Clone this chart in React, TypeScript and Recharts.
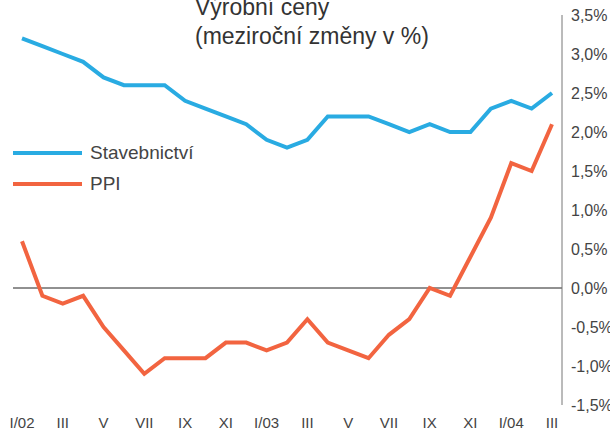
import { LineChart, Line, XAxis, YAxis, ReferenceLine } from 'recharts';

const months = [
  'I/02', 'II', 'III', 'IV', 'V', 'VI', 'VII', 'VIII', 'IX', 'X', 'XI', 'XII',
  'I/03', 'II', 'III', 'IV', 'V', 'VI', 'VII', 'VIII', 'IX', 'X', 'XI', 'XII',
  'I/04', 'II', 'III',
];

const stavebnictvi = [
  3.2, 3.1, 3.0, 2.9, 2.7, 2.6, 2.6, 2.6, 2.4, 2.3, 2.2, 2.1,
  1.9, 1.8, 1.9, 2.2, 2.2, 2.2, 2.1, 2.0, 2.1, 2.0, 2.0, 2.3,
  2.4, 2.3, 2.5,
];

const ppi = [
  0.6, -0.1, -0.2, -0.1, -0.5, -0.8, -1.1, -0.9, -0.9, -0.9, -0.7, -0.7,
  -0.8, -0.7, -0.4, -0.7, -0.8, -0.9, -0.6, -0.4, 0.0, -0.1, 0.4, 0.9,
  1.6, 1.5, 2.1,
];

const yTicks = [-1.5, -1, -0.5, 0, 0.5, 1, 1.5, 2, 2.5, 3, 3.5];

const BLUE = '#29abe2';
const RED = '#f26440';
const FONT = '"Liberation Sans", Arial, sans-serif';

const data = months.map((month, i) => ({
  month,
  stavebnictvi: stavebnictvi[i],
  ppi: ppi[i],
}));

const fmt = (v: number) => v.toFixed(1).replace('.', ',') + '%';

const YTick = ({ x, y, payload }: any) => (
  <text x={x} y={y + 6} fill="#444" fontSize={16} fontFamily={FONT} textAnchor="start">
    {fmt(payload.value)}
  </text>
);

const legendItems = [
  { name: 'Stavebnictví', color: BLUE },
  { name: 'PPI', color: RED },
];

export default function App() {
  return (
    <div style={{ position: 'absolute', left: 0, top: 0, width: 610, height: 432, background: '#fff' }}>
      <LineChart width={610} height={432} data={data} margin={{ top: 15, right: 0, bottom: 0, left: 13 }}>
        <XAxis
          dataKey="month"
          interval={1}
          axisLine={false}
          tickLine={false}
          tickSize={0}
          tickMargin={12}
          height={27}
          padding={{ left: 9, right: 10 }}
          tick={{ fontSize: 15, fill: '#444', fontFamily: FONT }}
        />
        <YAxis
          orientation="right"
          width={48}
          domain={[-1.5, 3.5]}
          ticks={yTicks}
          tickLine={false}
          tickSize={0}
          tickMargin={9}
          axisLine={{ stroke: '#777', strokeWidth: 1 }}
          tick={<YTick />}
        />
        <ReferenceLine y={0} stroke="#222" strokeWidth={1} />
        <Line
          type="linear"
          dataKey="stavebnictvi"
          name="Stavebnictví"
          stroke={BLUE}
          strokeWidth={4}
          dot={false}
          isAnimationActive={false}
        />
        <Line
          type="linear"
          dataKey="ppi"
          name="PPI"
          stroke={RED}
          strokeWidth={4}
          dot={false}
          isAnimationActive={false}
        />
      </LineChart>
      <div style={{ position: 'absolute', left: 13, top: 137, fontFamily: FONT }}>
        {legendItems.map((item) => (
          <div key={item.name} style={{ display: 'flex', alignItems: 'center', height: 31 }}>
            <div style={{ width: 69, height: 4, background: item.color }} />
            <span style={{ marginLeft: 8, fontSize: 19, color: '#444' }}>{item.name}</span>
          </div>
        ))}
      </div>
      <div
        style={{
          position: 'absolute',
          left: 195,
          top: -7,
          fontFamily: FONT,
          fontSize: 23,
          lineHeight: '29px',
          color: '#333',
          whiteSpace: 'nowrap',
        }}
      >
        Výrobní ceny
        <br />
        (meziroční změny v %)
      </div>
    </div>
  );
}
